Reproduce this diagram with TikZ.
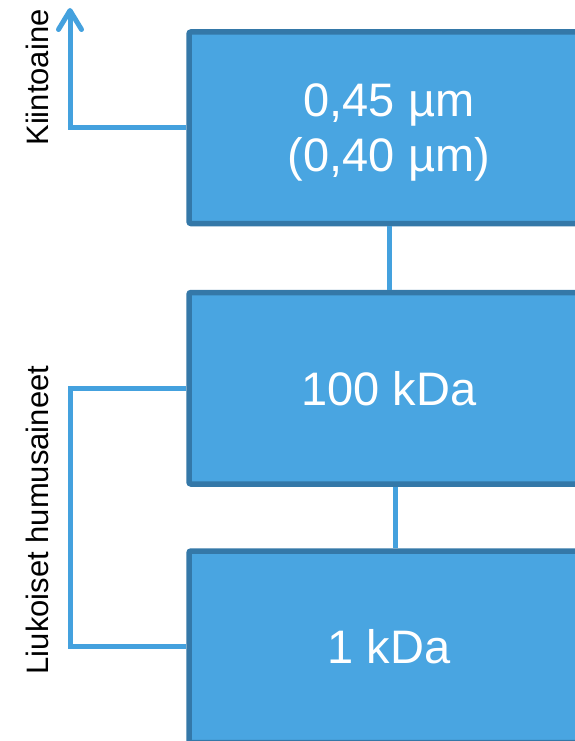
\documentclass[tikz,border=0pt]{standalone}
\usepackage{fontspec}
\setmainfont{Liberation Sans}
\usetikzlibrary{arrows.meta}

\definecolor{boxfill}{RGB}{73,165,225}
\definecolor{boxedge}{RGB}{52,120,168}
\definecolor{linkblue}{RGB}{68,161,222}

\tikzset{
  filterbox/.style={draw=boxedge, fill=boxfill, line width=5.5pt,
    rounded corners=2pt, minimum width=400pt, minimum height=191.5pt,
    inner sep=0pt, text=white, align=center, text depth=0pt,
    font=\fontsize{47}{55}\selectfont},
  link/.style={draw=linkblue, line width=5pt},
  sidelabel/.style={rotate=90, anchor=base, inner sep=0pt,
    font=\fontsize{31}{36}\selectfont}
}

\begin{document}
\begin{tikzpicture}[x=1pt,y=1pt]
  \useasboundingbox (0,0) rectangle (575,-741);

  % filter stages
  \node[filterbox] (f45)  at (389,-127.75) {0,45 µm\\(0,40 µm)};
  \node[filterbox] (f100) at (389,-388.25) {100 kDa};
  \node[filterbox] (f1)   at (389,-646.75) {1 kDa};

  % links between stages
  \draw[link] (f45.south) -- (f100.north);
  \draw[link] ([xshift=6pt]f100.south) -- ([xshift=6pt]f1.north);

  % retained solids branch
  \coordinate (solidtip) at (70,-8);
  \draw[link, -{Straight Barb[length=19pt,width=23pt,round]}]
    (f45.west) -| (solidtip);

  % dissolved humus bracket
  \coordinate (rail) at (70,0);
  \draw[link] (f100.west) -- (f100.west -| rail) -- (f1.west -| rail) -- (f1.west);

  % side labels
  \node[sidelabel] (solids) at (48.5,-77.5) {Kiintoaine};
  \node[sidelabel] (humus)  at (48.5,-520) {Liukoiset humusaineet};
\end{tikzpicture}
\end{document}
